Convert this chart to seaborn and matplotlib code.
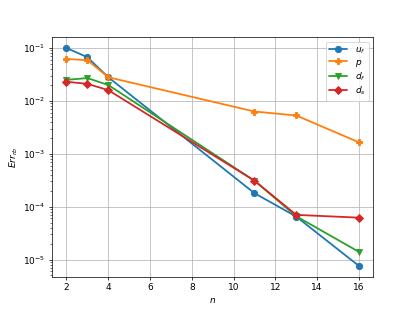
import numpy as np
import pandas as pd
import seaborn as sns
import matplotlib.pyplot as plt

n = [2, 3, 4, 11, 13, 16]
err_uf = [0.1, 0.067, 0.028, 1.8e-4, 6.5e-5, 7.6e-6]
err_p = [0.062, 0.059, 0.028, 6.3e-3, 5.3e-3, 1.65e-3]
err_df = [0.025, 0.027, 0.020, 3.1e-4, 6.6e-5, 1.4e-5]
err_ds = [0.023, 0.021, 0.016, 3.1e-4, 7.0e-5, 6.2e-5]

labels = ['$u_f$', '$p$', '$d_f$', '$d_s$']
markers = ['o', 'P', 'v', 'D']
colors = sns.color_palette('tab10', 4)

sns.set_style('ticks', {'axes.edgecolor': 'black', 'xtick.color': 'black',
                        'ytick.color': 'black', 'text.color': 'black',
                        'axes.labelcolor': 'black'})
plt.rcParams['font.family'] = ['DejaVu Sans']

fig, ax = plt.subplots(figsize=(6.4, 4.8), dpi=64.84)

for vals, lab, mk, c in zip([err_uf, err_p, err_df, err_ds], labels, markers, colors):
    df = pd.DataFrame({'n': n, 'err': vals})
    sns.lineplot(data=df, x='n', y='err', marker=mk, color=c, label=lab,
                 markersize=7, markeredgewidth=1, markeredgecolor=c,
                 linewidth=2, ax=ax)

ax.set_yscale('log')
ax.set_xticks([2, 4, 6, 8, 10, 12, 14, 16])
ax.grid(True, which='major', color='#b0b0b0', linewidth=0.8)
ax.set_xlabel('$n$')
ax.set_ylabel('$Err_{rb}$')
ax.legend(loc='upper right', frameon=True, labelspacing=0.2)

fig.savefig('out.png', dpi=64.84)
plt.close(fig)
